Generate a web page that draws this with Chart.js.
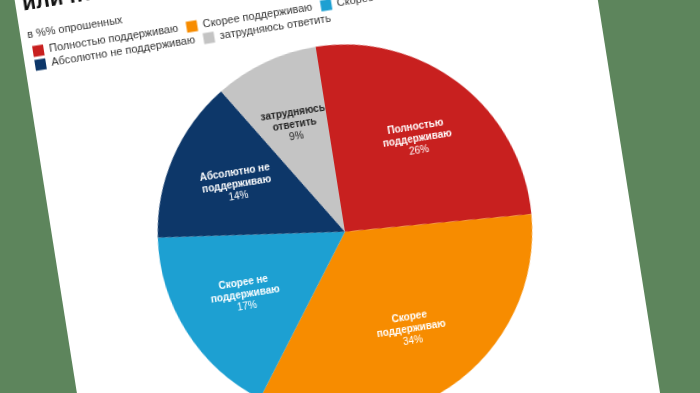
<!DOCTYPE html>
<html lang="ru">
<head>
<meta charset="utf-8">
<script src="https://cdn.jsdelivr.net/npm/chart.js@4"></script>
<style>
  html, body { margin: 0; padding: 0; }
  body { width: 700px; height: 393px; overflow: hidden; background: #5d855c; position: relative; }
  /* carte blanche inclinée comme sur la photo */
  #card {
    position: absolute; left: 55px; top: -98px; width: 576px; height: 760px;
    background: #fff; transform-origin: 290px 330px; transform: rotate(-9deg);
  }
  #card canvas { position: absolute; left: 0; top: 0; }
</style>
</head>
<body>
<div id="card"><canvas id="sondage" width="576" height="517"></canvas></div>
<script>
// Réponses du sondage, en % des personnes interrogées
const categories = [
  "Полностью поддерживаю",
  "Скорее поддерживаю",
  "Скорее не поддерживаю",
  "Абсолютно не поддерживаю",
  "затрудняюсь ответить",
];
const shares = [26, 34, 17, 14, 9];
const colors = ["#c8201f", "#f78c00", "#1da0d2", "#0d3769", "#c4c4c4"];

const titleLines = ["Вы поддерживаете это решение", "или полностью его не поддерживаете?"];
const subtitle = "в %% опрошенных";

const police = "'Liberation Sans', Arial, sans-serif";
Chart.defaults.font.family = police;
Chart.defaults.color = "#222";

// Un peu d'espace sous la légende
const legendSpace = {
  id: "legendSpace",
  beforeInit(chart) {
    const fit = chart.legend.fit;
    chart.legend.fit = function () {
      fit.call(this);
      this.height += 10;
    };
  },
};

// Étiquettes dans les parts : nom sur deux lignes + pourcentage
const etiquettes = {
  id: "etiquettes",
  afterDatasetsDraw(chart) {
    const ctx = chart.ctx;
    chart.getDatasetMeta(0).data.forEach((arc, i) => {
      const mid = (arc.startAngle + arc.endAngle) / 2;
      const r = arc.outerRadius * 0.63;
      const x = arc.x + Math.cos(mid) * r;
      const y = arc.y + Math.sin(mid) * r;
      const cut = categories[i].lastIndexOf(" ");
      ctx.save();
      ctx.fillStyle = i === 4 ? "#222" : "#fff";
      ctx.textAlign = "center";
      ctx.textBaseline = "middle";
      ctx.font = "bold 10px " + police;
      ctx.fillText(categories[i].slice(0, cut), x, y - 12);
      ctx.fillText(categories[i].slice(cut + 1), x, y);
      ctx.font = "10px " + police;
      ctx.fillText(shares[i] + "%", x, y + 12);
      ctx.restore();
    });
  },
};

new Chart(document.getElementById("sondage"), {
  type: "pie",
  data: {
    labels: categories,
    datasets: [
      {
        data: shares,
        backgroundColor: colors,
        borderWidth: 0,
      },
    ],
  },
  options: {
    responsive: false,
    animation: false,
    layout: { padding: { left: 7, right: 3, top: 0, bottom: 0 } },
    plugins: {
      tooltip: { enabled: false },
      title: {
        display: true,
        text: titleLines,
        align: "start",
        color: "#111",
        font: { size: 22, weight: "bold" },
        padding: { top: 15, bottom: 3 },
      },
      subtitle: {
        display: true,
        text: subtitle,
        align: "start",
        color: "#333",
        font: { size: 11 },
        padding: { top: 9, bottom: 1.5 },
      },
      legend: {
        position: "top",
        align: "start",
        labels: {
          boxWidth: 11,
          boxHeight: 11,
          padding: 3,
          color: "#333",
          font: { size: 11 },
          // espace supplémentaire entre les entrées
          generateLabels(chart) {
            return Chart.overrides.pie.plugins.legend.labels
              .generateLabels(chart)
              .map((item) => ({ ...item, text: item.text + "\u2002" }));
          },
        },
      },
    },
  },
  plugins: [legendSpace, etiquettes],
});
</script>
</body>
</html>
